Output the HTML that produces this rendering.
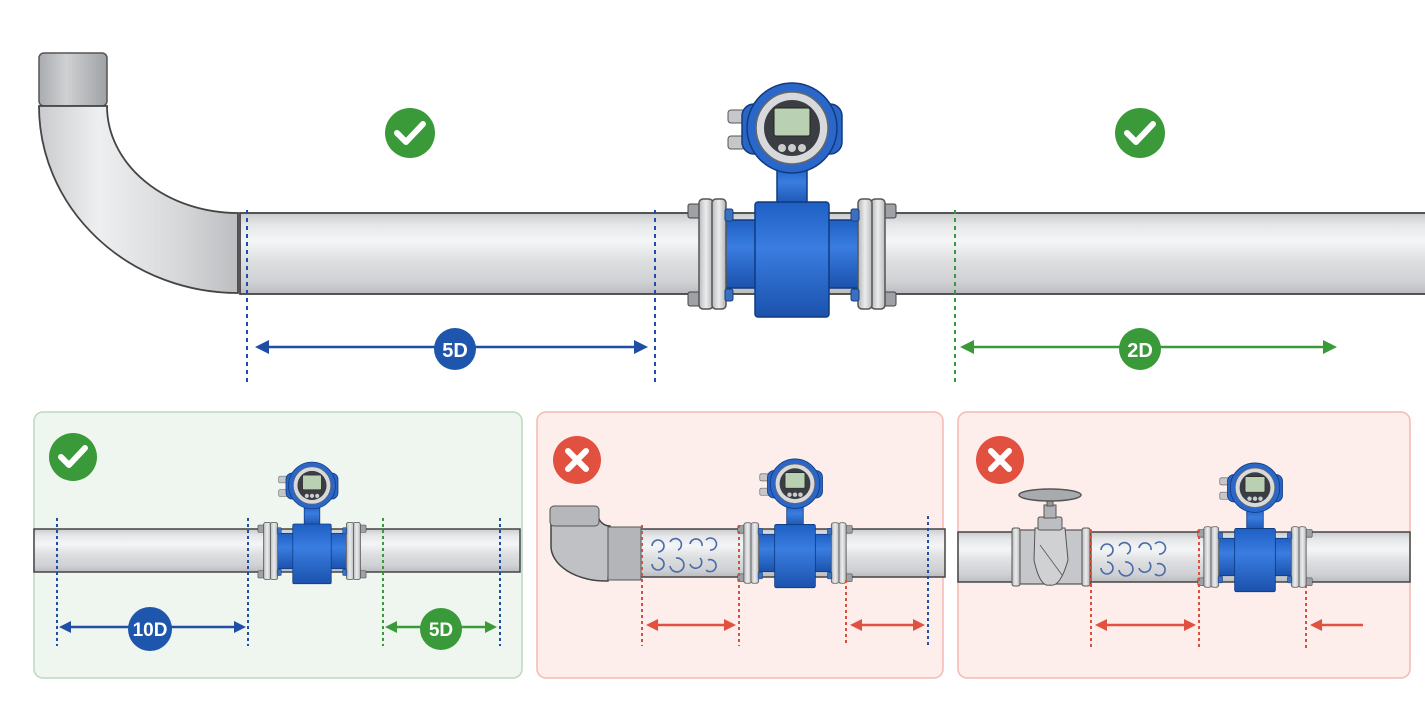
<!DOCTYPE html>
<html><head><meta charset="utf-8"><style>
html,body{margin:0;padding:0;background:#fff;}
svg{display:block;font-family:"Liberation Sans",sans-serif;}
</style></head><body>
<svg width="1425" height="703" viewBox="0 0 1425 703" xmlns="http://www.w3.org/2000/svg">
<defs>
<linearGradient id="pg" x1="0" y1="0" x2="0" y2="1">
<stop offset="0" stop-color="#c9cbce"/><stop offset="0.15" stop-color="#e6e7e9"/><stop offset="0.35" stop-color="#f4f5f6"/><stop offset="0.6" stop-color="#dcdee0"/><stop offset="0.85" stop-color="#cfd1d4"/><stop offset="1" stop-color="#b9bbbe"/>
</linearGradient>
<linearGradient id="pgv" x1="0" y1="0" x2="1" y2="0">
<stop offset="0" stop-color="#c9cbce"/><stop offset="0.3" stop-color="#eeeff0"/><stop offset="0.7" stop-color="#d6d8da"/><stop offset="1" stop-color="#bcbec1"/>
</linearGradient>
<linearGradient id="cap" x1="0" y1="0" x2="1" y2="0">
<stop offset="0" stop-color="#a9acaf"/><stop offset="0.4" stop-color="#cfd1d3"/><stop offset="1" stop-color="#9fa2a5"/>
</linearGradient>
<linearGradient id="bl" x1="0" y1="0" x2="0" y2="1">
<stop offset="0" stop-color="#1f5fc4"/><stop offset="0.4" stop-color="#3a7de0"/><stop offset="1" stop-color="#1b52ad"/>
</linearGradient>
<linearGradient id="fl" x1="0" y1="0" x2="1" y2="0">
<stop offset="0" stop-color="#b8babd"/><stop offset="0.5" stop-color="#eceded"/><stop offset="1" stop-color="#b0b2b5"/>
</linearGradient>
<g id="meter">
  <rect x="-68" y="-34" width="136" height="68" fill="url(#bl)" stroke="#0f3b80" stroke-width="1.5"/>
  <g id="fls">
    <rect x="-104" y="-50" width="13" height="14" rx="2" fill="#9ea1a5" stroke="#444"/>
    <rect x="-104" y="38" width="13" height="14" rx="2" fill="#9ea1a5" stroke="#444"/>
    <rect x="-93" y="-55" width="14" height="110" rx="4" fill="url(#fl)" stroke="#555" stroke-width="1.5"/>
    <rect x="-80" y="-55" width="14" height="110" rx="4" fill="url(#fl)" stroke="#555" stroke-width="1.5"/>
    <rect x="-67" y="-45" width="8" height="12" rx="2" fill="#3b6fc0" stroke="#1a3f80"/>
    <rect x="-67" y="35" width="8" height="12" rx="2" fill="#3b6fc0" stroke="#1a3f80"/>
  </g>
  <use href="#fls" transform="scale(-1,1)"/>
  <rect x="-15" y="-88" width="30" height="40" fill="url(#bl)" stroke="#0f3b80" stroke-width="1.5"/>
  <rect x="-37" y="-52" width="74" height="115" rx="3" fill="url(#bl)" stroke="#0f3b80" stroke-width="1.5"/>
  <rect x="-64" y="-144" width="17" height="13" rx="3" fill="#c5c7ca" stroke="#555"/>
  <rect x="-64" y="-118" width="17" height="13" rx="3" fill="#c5c7ca" stroke="#555"/>
  <rect x="-50" y="-150" width="100" height="50" rx="12" fill="#2a64c4" stroke="#0f3b80" stroke-width="1.5"/>
  <circle cx="0" cy="-126" r="45" fill="#2a67c8" stroke="#0f3b80" stroke-width="1.5"/>
  <circle cx="0" cy="-126" r="36" fill="#d7d9dc" stroke="#666" stroke-width="1.5"/>
  <circle cx="0" cy="-126" r="28" fill="#3a3d42"/>
  <rect x="-18" y="-146" width="36" height="28" rx="2" fill="#b9d0b2" stroke="#222"/>
  <circle cx="-10" cy="-106" r="4" fill="#ccc"/><circle cx="0" cy="-106" r="4" fill="#ccc"/><circle cx="10" cy="-106" r="4" fill="#ccc"/>
</g>
<g id="swirl" fill="none" stroke="#4a6aa8" stroke-width="1.6">
  <path d="M0,6 a6,6 0 1 1 6,6"/><path d="M18,2 a6,6 0 1 1 8,8"/><path d="M38,4 a6,6 0 0 1 12,2"/><path d="M54,0 a6,6 0 1 1 4,10"/>
  <path d="M0,24 a6,6 0 1 0 6,-6"/><path d="M18,26 a7,7 0 1 0 6,-8"/><path d="M38,24 a6,6 0 1 0 10,-6"/><path d="M56,20 a6,6 0 1 1 -2,10"/>
</g>
</defs>

<!-- main elbow -->
<rect x="39" y="53" width="68" height="53" rx="5" fill="url(#cap)" stroke="#555" stroke-width="1.5"/>
<path d="M39,106 A199,187 0 0 0 238,293 L238,213 A131,107 0 0 1 107,106 Z" fill="url(#pgv)" stroke="#444" stroke-width="1.8"/>
<!-- main pipe -->
<rect x="240" y="213" width="1190" height="81" fill="url(#pg)" stroke="#444" stroke-width="1.8"/>
<use href="#meter" transform="translate(792,254)"/>

<g stroke-width="2" stroke-dasharray="4,4">
<line x1="247" y1="210" x2="247" y2="382" stroke="#1f4fa5"/>
<line x1="655" y1="210" x2="655" y2="382" stroke="#1f4fa5"/>
<line x1="955" y1="210" x2="955" y2="382" stroke="#3a9a3a"/>
</g>
<line x1="265" y1="347" x2="638" y2="347" stroke="#1f4fa5" stroke-width="2.5"/>
<path d="M255,347 l14,-7 v14z M648,347 l-14,-7 v14z" fill="#1f4fa5"/>
<circle cx="455" cy="349" r="21" fill="#1f56ad"/>
<text x="455" y="357" text-anchor="middle" font-size="20" font-weight="bold" fill="#fff">5D</text>
<line x1="970" y1="347" x2="1325" y2="347" stroke="#3a9a3a" stroke-width="2.5"/>
<path d="M960,347 l14,-7 v14z M1337,347 l-14,-7 v14z" fill="#3a9a3a"/>
<circle cx="1140" cy="349" r="21" fill="#3a9a3a"/>
<text x="1140" y="357" text-anchor="middle" font-size="20" font-weight="bold" fill="#fff">2D</text>

<circle cx="410" cy="133" r="25" fill="#3a9a3a"/>
<path d="M397,133 l9,9 l17,-18" fill="none" stroke="#fff" stroke-width="6" stroke-linecap="round" stroke-linejoin="round"/>
<circle cx="1140" cy="133" r="25" fill="#3a9a3a"/>
<path d="M1127,133 l9,9 l17,-18" fill="none" stroke="#fff" stroke-width="6" stroke-linecap="round" stroke-linejoin="round"/>

<!-- panel 1 -->
<rect x="34" y="412" width="488" height="266" rx="9" fill="#eff6ef" stroke="#bcd8bf" stroke-width="1.5"/>
<circle cx="73" cy="457" r="24" fill="#3a9a3a"/>
<path d="M61,457 l8,8 l16,-17" fill="none" stroke="#fff" stroke-width="6" stroke-linecap="round" stroke-linejoin="round"/>
<rect x="34" y="529" width="486" height="43" fill="url(#pg)" stroke="#444" stroke-width="1.5"/>
<use href="#meter" transform="translate(312,551) scale(0.52)"/>
<g stroke-width="2" stroke-dasharray="3,3">
<line x1="57" y1="518" x2="57" y2="646" stroke="#1f4fa5"/>
<line x1="248" y1="518" x2="248" y2="646" stroke="#1f4fa5"/>
<line x1="383" y1="518" x2="383" y2="646" stroke="#3a9a3a"/>
<line x1="500" y1="518" x2="500" y2="646" stroke="#1f4fa5"/>
</g>
<line x1="68" y1="627" x2="236" y2="627" stroke="#1f4fa5" stroke-width="2.5"/>
<path d="M59,627 l12,-6 v12z M246,627 l-12,-6 v12z" fill="#1f4fa5"/>
<circle cx="150" cy="629" r="22" fill="#1f56ad"/>
<text x="150" y="636" text-anchor="middle" font-size="19" font-weight="bold" fill="#fff">10D</text>
<line x1="394" y1="627" x2="488" y2="627" stroke="#3a9a3a" stroke-width="2.5"/>
<path d="M385,627 l12,-6 v12z M497,627 l-12,-6 v12z" fill="#3a9a3a"/>
<circle cx="441" cy="629" r="21" fill="#3a9a3a"/>
<text x="441" y="636" text-anchor="middle" font-size="19" font-weight="bold" fill="#fff">5D</text>

<!-- panel 2 -->
<rect x="537" y="412" width="406" height="266" rx="9" fill="#fdeeec" stroke="#f3b9b2" stroke-width="1.5"/>
<circle cx="577" cy="460" r="24" fill="#e2503f"/>
<path d="M568,451 l18,18 M586,451 l-18,18" stroke="#fff" stroke-width="6" stroke-linecap="round"/>
<rect x="640" y="529" width="305" height="48" fill="url(#pg)" stroke="#444" stroke-width="1.5"/>
<path d="M551,520 L551,545 A55,35 0 0 0 608,581 L610,526 A12,12 0 0 1 598,515 Z" fill="#bfc1c4" stroke="#444" stroke-width="1.5"/>
<rect x="550" y="506" width="49" height="20" rx="4" fill="#b5b7ba" stroke="#555"/>
<rect x="608" y="527" width="33" height="53" fill="#b3b5b8" stroke="#555"/>
<use href="#swirl" transform="translate(652,540)"/>
<use href="#meter" transform="translate(795,553) scale(0.55)"/>
<g stroke-width="2" stroke-dasharray="3,3">
<line x1="642" y1="525" x2="642" y2="646" stroke="#d9503c"/>
<line x1="739" y1="525" x2="739" y2="646" stroke="#d9503c"/>
<line x1="846" y1="580" x2="846" y2="646" stroke="#d9503c"/>
<line x1="928" y1="516" x2="928" y2="646" stroke="#1f4fa5"/>
</g>
<line x1="655" y1="625" x2="726" y2="625" stroke="#e2503f" stroke-width="2.5"/>
<path d="M646,625 l12,-6 v12z M736,625 l-12,-6 v12z" fill="#e2503f"/>
<line x1="860" y1="625" x2="916" y2="625" stroke="#e2503f" stroke-width="2.5"/>
<path d="M850,625 l12,-6 v12z M925,625 l-12,-6 v12z" fill="#e2503f"/>

<!-- panel 3 -->
<rect x="958" y="412" width="452" height="266" rx="9" fill="#fdeeec" stroke="#f3b9b2" stroke-width="1.5"/>
<circle cx="1000" cy="460" r="24" fill="#e2503f"/>
<path d="M991,451 l18,18 M1009,451 l-18,18" stroke="#fff" stroke-width="6" stroke-linecap="round"/>
<rect x="958" y="532" width="452" height="50" fill="url(#pg)" stroke="#444" stroke-width="1.5"/>
<rect x="1013" y="530" width="78" height="54" fill="#c5c7ca" stroke="#555" stroke-width="1.2"/>
<rect x="1012" y="528" width="8" height="58" rx="2" fill="url(#fl)" stroke="#555"/>
<rect x="1082" y="528" width="8" height="58" rx="2" fill="url(#fl)" stroke="#555"/>
<path d="M1035,528 L1065,528 L1068,560 Q1060,588 1050,585 Q1040,588 1034,560 Z" fill="#cfd1d3" stroke="#555"/>
<path d="M1040,545 L1062,575" stroke="#666"/>
<rect x="1038" y="517" width="24" height="13" rx="2" fill="#bcbec1" stroke="#555"/>
<rect x="1044" y="505" width="12" height="13" fill="#b0b2b5" stroke="#555"/>
<rect x="1047" y="492" width="6" height="14" fill="#999" stroke="#555"/>
<ellipse cx="1050" cy="495" rx="31" ry="6" fill="#a8abae" stroke="#555" stroke-width="1.5"/>
<use href="#swirl" transform="translate(1101,544)"/>
<use href="#meter" transform="translate(1255,557) scale(0.55)"/>
<g stroke-width="2" stroke-dasharray="3,3">
<line x1="1091" y1="530" x2="1091" y2="648" stroke="#d9503c"/>
<line x1="1199" y1="530" x2="1199" y2="648" stroke="#d9503c"/>
<line x1="1306" y1="585" x2="1306" y2="648" stroke="#d9503c"/>
</g>
<line x1="1105" y1="625" x2="1186" y2="625" stroke="#e2503f" stroke-width="2.5"/>
<path d="M1095,625 l12,-6 v12z M1196,625 l-12,-6 v12z" fill="#e2503f"/>
<line x1="1320" y1="625" x2="1363" y2="625" stroke="#e2503f" stroke-width="2.5"/>
<path d="M1310,625 l12,-6 v12z" fill="#e2503f"/>
</svg>
</body></html>
